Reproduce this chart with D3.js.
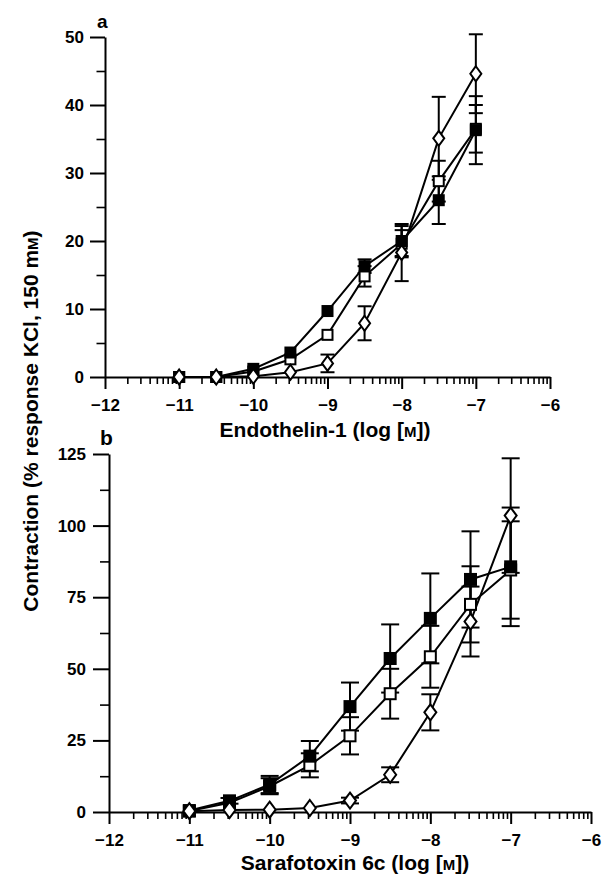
<!DOCTYPE html>
<html lang="en">
<head>
<meta charset="utf-8">
<title>Contraction curves</title>
<script src="https://cdnjs.cloudflare.com/ajax/libs/d3/7.8.5/d3.min.js"></script>
<style>
  body { margin: 0; background: #fff; }
  svg { display: block; }
  .axis path, .axis line { stroke: #000; stroke-width: 2; }
  .axis text { font: bold 17px "Liberation Sans", Arial, sans-serif; fill: #000; }
  .minor line { stroke-width: 1.6; }
  .title { font: bold 21px "Liberation Sans", Arial, sans-serif; fill: #000; }
</style>
</head>
<body>
<script>
// log molar concentrations, shared by both panels
var concs = [-11, -10.5, -10, -9.5, -9, -8.5, -8, -7.5, -7];
var xTicks = [-12, -11, -10, -9, -8, -7, -6];
var yTicksA = [0, 10, 20, 30, 40, 50];
var yTicksB = [0, 25, 50, 75, 100, 125];

// panel a : endothelin-1
var etFilled     = [0, 0, 1.2, 3.6, 9.7, 16.3, 20.0, 26.0, 36.3];
var etFilledErr  = [0, 0, 0.3, 0.5, 0.6, 1.0, 2.2, 3.5, 5.0];
var etOpen       = [0, 0, 0.8, 2.6, 6.2, 14.8, 19.6, 28.8, 36.5];
var etOpenErr    = [0, 0, 0.3, 0.5, 0.8, 1.5, 2.0, 3.0, 3.5];
var etDiamond    = [0, 0, 0.1, 0.7, 2.0, 7.9, 18.3, 35.1, 44.6];
var etDiamondErr = [0, 0, 0.2, 0.4, 1.3, 2.5, 4.2, 6.1, 5.8];

// panel b : sarafotoxin 6c
var sfFilled     = [0.5, 3.9, 9.6, 19.5, 36.8, 53.6, 67.6, 81.2, 85.6];
var sfFilledErr  = [0.5, 1.0, 3.0, 5.3, 8.4, 11.9, 15.7, 16.8, 20.7];
var sfOpen       = [0.3, 3.2, 9.0, 16.3, 26.6, 41.3, 54.2, 72.5, 84.5];
var sfOpenErr    = [0.3, 0.8, 2.8, 4.2, 6.5, 8.7, 10.8, 13.3, 17.0];
var sfDiamond    = [0.3, 0.7, 0.8, 1.4, 4.0, 13.0, 34.8, 66.5, 103.5];
var sfDiamondErr = [0.2, 0.4, 0.5, 0.6, 1.0, 2.6, 6.3, 12.2, 20.0];

var svg = d3.select("body").append("svg")
  .attr("width", 607)
  .attr("height", 875);

svg.append("rect").attr("width", 607).attr("height", 875).attr("fill", "#fff");

// minor ticks of a log axis: d + log10(k)
var xMinor = [];
d3.range(-12, -6).forEach(function(d) {
  d3.range(2, 10).forEach(function(k) { xMinor.push(d + Math.log10(k)); });
});

function drawPanel(p) {
  var x = d3.scaleLinear().domain([-12, -6]).range(p.xr);
  var y = d3.scaleLinear().domain([0, p.ymax]).range(p.yr);
  var g = svg.append("g");

  //minor ticks first so the main axis sits on top
  g.append("g").attr("class", "axis minor")
    .attr("transform", "translate(0," + p.yr[0] + ")")
    .call(d3.axisBottom(x).tickValues(xMinor).tickSize(7).tickSizeOuter(0).tickFormat(""))
    .select(".domain").remove();

  var yMinor = d3.range(p.ystep / 2, p.ymax, p.ystep);
  g.append("g").attr("class", "axis minor")
    .attr("transform", "translate(" + p.xr[0] + ",0)")
    .call(d3.axisLeft(y).tickValues(yMinor).tickSize(p.ytick / 2 + 1).tickSizeOuter(0).tickFormat(""))
    .select(".domain").remove();

  g.append("g").attr("class", "axis")
    .attr("transform", "translate(0," + p.yr[0] + ")")
    .call(d3.axisBottom(x).tickValues(xTicks).tickSize(12).tickPadding(10).tickSizeOuter(0)
      .tickFormat(d3.format("d")));

  g.append("g").attr("class", "axis")
    .attr("transform", "translate(" + p.xr[0] + ",0)")
    .call(d3.axisLeft(y).tickValues(p.yTicks).tickSize(p.ytick).tickPadding(p.ypad).tickSizeOuter(0));

  // x axis title with small-capital M
  var t = g.append("text").attr("class", "title")
    .attr("x", p.titleX).attr("y", p.titleY)
    .attr("text-anchor", "middle");
  t.append("tspan").text(p.title + " (log [");
  t.append("tspan").attr("font-size", "15px").text("M");
  t.append("tspan").text("])");

  g.append("text").attr("class", "title")
    .attr("x", p.labelX).attr("y", p.labelY)
    .style("font-size", p.labelSize)
    .text(p.label);

  var series = p.series.map(function(s) {
    return {
      shape: s.shape,
      pts: concs.map(function(c, i) { return { c: c, v: s.v[i], e: s.e[i] }; })
    };
  });

  var line = d3.line()
    .x(function(d) { return x(d.c); })
    .y(function(d) { return y(d.v); });

  series.forEach(function(s) {
    g.append("path").datum(s.pts)
      .attr("d", line)
      .attr("fill", "none")
      .attr("stroke", "#000")
      .attr("stroke-width", 2);
  });

  var cap = p.cap / 2;
  series.forEach(function(s) {
    var eb = g.selectAll(null).data(s.pts.filter(function(d) { return d.e > 0.9; }))
      .enter().append("g")
      .attr("stroke", "#000").attr("stroke-width", 2);
    eb.append("line")
      .attr("x1", function(d) { return x(d.c); }).attr("x2", function(d) { return x(d.c); })
      .attr("y1", function(d) { return y(d.v - d.e); }).attr("y2", function(d) { return y(d.v + d.e); });
    eb.append("line")
      .attr("x1", function(d) { return x(d.c) - cap; }).attr("x2", function(d) { return x(d.c) + cap; })
      .attr("y1", function(d) { return y(d.v + d.e); }).attr("y2", function(d) { return y(d.v + d.e); });
    eb.append("line")
      .attr("x1", function(d) { return x(d.c) - cap; }).attr("x2", function(d) { return x(d.c) + cap; })
      .attr("y1", function(d) { return y(d.v - d.e); }).attr("y2", function(d) { return y(d.v - d.e); });
  });

  // markers: open squares, then filled squares, diamonds on top
  var sq = p.sq, dw = p.dw, dh = p.dh;
  series.forEach(function(s) {
    var m = g.selectAll(null).data(s.pts).enter();
    if (s.shape === "diamond") {
      m.append("path")
        .attr("d", function(d) {
          var cx = x(d.c), cy = y(d.v);
          return "M" + cx + "," + (cy - dh / 2) + "L" + (cx + dw / 2) + "," + cy +
            "L" + cx + "," + (cy + dh / 2) + "L" + (cx - dw / 2) + "," + cy + "Z";
        })
        .attr("fill", "#fff").attr("stroke", "#000").attr("stroke-width", 2);
    } else {
      m.append("rect")
        .attr("x", function(d) { return x(d.c) - sq / 2; })
        .attr("y", function(d) { return y(d.v) - sq / 2; })
        .attr("width", sq).attr("height", sq)
        .attr("fill", s.shape === "filled" ? "#000" : "#fff")
        .attr("stroke", "#000").attr("stroke-width", 2);
    }
  });
}

drawPanel({
  xr: [105, 550], yr: [377, 37], ymax: 50, ystep: 10, yTicks: yTicksA,
  ytick: 15, ypad: 6, cap: 14, sq: 10, dw: 11, dh: 15,
  title: "Endothelin-1", titleX: 325, titleY: 437,
  label: "a", labelX: 97, labelY: 28, labelSize: "19px",
  series: [
    { shape: "open", v: etOpen, e: etOpenErr },
    { shape: "filled", v: etFilled, e: etFilledErr },
    { shape: "diamond", v: etDiamond, e: etDiamondErr }
  ]
});

drawPanel({
  xr: [109, 591], yr: [812, 454], ymax: 125, ystep: 25, yTicks: yTicksB,
  ytick: 16, ypad: 7, cap: 18, sq: 11, dw: 12, dh: 16,
  title: "Sarafotoxin 6c", titleX: 355, titleY: 870,
  label: "b", labelX: 100, labelY: 445, labelSize: "21px",
  series: [
    { shape: "open", v: sfOpen, e: sfOpenErr },
    { shape: "filled", v: sfFilled, e: sfFilledErr },
    { shape: "diamond", v: sfDiamond, e: sfDiamondErr }
  ]
});

// shared y axis title
var yt = svg.append("text").attr("class", "title")
  .attr("transform", "translate(38,421) rotate(-90)")
  .attr("text-anchor", "middle");
yt.append("tspan").text("Contraction (% response KCl, 150 m");
yt.append("tspan").attr("font-size", "15px").text("M");
yt.append("tspan").text(")");
</script>
</body>
</html>
